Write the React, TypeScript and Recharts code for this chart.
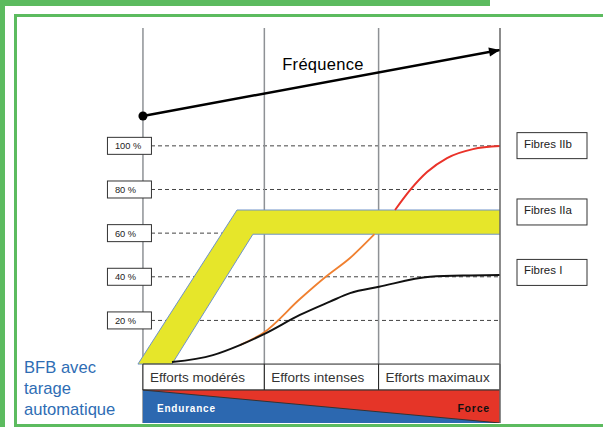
import React from 'react'
import {
  ComposedChart,
  XAxis,
  YAxis,
  CartesianGrid,
  Line,
  Area,
  ReferenceLine,
  ReferenceArea,
  ReferenceDot,
  Label,
} from 'recharts'

// x: effort scale (0 = start of "modérés", 300 = end of "maximaux")
// y: % of recruitment (0..100), negative values are the label row + band below
const zoneBounds = [0, 102, 198, 300]
const zoneLabels = ['Efforts modérés', 'Efforts intenses', 'Efforts maximaux']
const pctTicks = [20, 40, 60, 80, 100]
const X_DOMAIN = [-5, 300]
const Y_DOMAIN = [-27, 154]

const fibreI = [
  { x: 24.4, v: 0.9 },
  { x: 58.8, v: 4.1 },
  { x: 81.5, v: 8.7 },
  { x: 101.7, v: 13.7 },
  { x: 131.9, v: 22.5 },
  { x: 157.1, v: 28.6 },
  { x: 174, v: 32.5 },
  { x: 198.3, v: 35.4 },
  { x: 241.2, v: 40 },
  { x: 274.8, v: 40.6 },
  { x: 300, v: 40.8 },
]

// orange part, stops at the lower edge of the yellow band
const fibreIIa = [
  { x: 81.5, v: 8.7 },
  { x: 101.7, v: 14.5 },
  { x: 131.9, v: 29.8 },
  { x: 153.6, v: 40 },
  { x: 174, v: 48.6 },
  { x: 194.5, v: 59.5 },
]

// red part, starts at the upper edge of the yellow band
const fibreIIb = [
  { x: 211.8, v: 70.6 },
  { x: 224.4, v: 79.7 },
  { x: 238.7, v: 88 },
  { x: 255.5, v: 94.4 },
  { x: 277.3, v: 98.5 },
  { x: 300, v: 99.9 },
]

// yellow band (BFB), [low, high]
const bfbBand = [
  { x: -4.2, r: [0, 0] },
  { x: 24.4, r: [0, 24.3] },
  { x: 79, r: [47.8, 70.6] },
  { x: 92.4, r: [59.5, 70.6] },
  { x: 300, r: [59.5, 70.6] },
]

const frequence = [
  { x: 0, f: 113.7 },
  { x: 300, f: 143.9 },
]

const forceBand = [
  { x: 0, r: [-11.9, -11.9] },
  { x: 300, r: [-27, -11.9] },
]

const fibreLabels = [
  { name: 'Fibres IIb', v: 100.1 },
  { name: 'Fibres IIa', v: 69.7 },
  { name: 'Fibres I', v: 42 },
]

const FONT = '"Liberation Sans", Arial, sans-serif'
const GREEN = '#5cbb5f'

const scaleOr = (axis: any, v: number, fallback: () => number) => {
  const s = axis && axis.scale
  if (typeof s === 'function') {
    const r = s(v)
    if (typeof r === 'number' && !isNaN(r)) return r
  }
  return fallback()
}

const hLines = ({ yAxis, offset }: any) =>
  pctTicks.map((t) =>
    scaleOr(yAxis, t, () => offset.top + (offset.height * (Y_DOMAIN[1] - t)) / (Y_DOMAIN[1] - Y_DOMAIN[0])),
  )

const vLines = ({ xAxis, offset }: any) =>
  zoneBounds
    .slice(0, 3)
    .map((b) =>
      scaleOr(xAxis, b, () => offset.left + (offset.width * (b - X_DOMAIN[0])) / (X_DOMAIN[1] - X_DOMAIN[0])),
    )

const pctBox = (value: number) => (props: any) => {
  const { cx, cy } = props
  return (
    <g>
      <rect x={cx - 35.5} y={cy - 8.5} width={44} height={17} fill="#fff" stroke="#333" strokeWidth={1} />
      <text x={cx - 28} y={cy + 0.5} fontSize={9.3} fontFamily={FONT} fill="#222" dominantBaseline="central">
        {value} %
      </text>
    </g>
  )
}

function FreqDot(props: any) {
  const { cx, cy, index, points } = props
  if (cx == null || cy == null) return null
  if (index === 0) return <circle key="d0" cx={cx} cy={cy} r={4.5} fill="#000" />
  let ang = Math.atan2(-67, 357)
  if (points && points.length > 1) {
    const a = points[0]
    const b = points[points.length - 1]
    ang = Math.atan2(b.y - a.y, b.x - a.x)
  }
  const len = 11
  const hw = 4.5
  const bx = cx - len * Math.cos(ang)
  const by = cy - len * Math.sin(ang)
  const nx = -Math.sin(ang)
  const ny = Math.cos(ang)
  const pts = `${cx},${cy} ${bx + nx * hw},${by + ny * hw} ${bx - nx * hw},${by - ny * hw}`
  return <polygon key="d1" points={pts} fill="#000" />
}

const fibreBox = (name: string) => (props: any) => {
  const { cx, cy } = props
  return (
    <g>
      <rect x={cx + 17} y={cy - 13} width={70} height={26} fill="#fff" stroke="#333" strokeWidth={1} />
      <text x={cx + 24} y={cy - 2} fontSize={11.5} fontFamily={FONT} fill="#222" dominantBaseline="central">
        {name}
      </text>
    </g>
  )
}

export default function App() {
  return (
    <div style={{ position: 'relative', width: 603, height: 427, background: '#fff', overflow: 'hidden' }}>
      <style>{'body{margin:0}'}</style>
      <div style={{ position: 'absolute', left: 0, top: 0, width: 490, height: 6, background: GREEN }} />
      <div style={{ position: 'absolute', left: 0, top: 0, width: 5, height: 427, background: GREEN }} />
      <div
        style={{
          position: 'absolute',
          left: 14,
          top: 14,
          width: 620,
          height: 413,
          boxSizing: 'border-box',
          border: `3px solid ${GREEN}`,
        }}
      />
      <div style={{ position: 'absolute', left: 0, top: 0 }}>
        <ComposedChart width={603} height={427} margin={{ top: 28, right: 103, bottom: 4, left: 137 }}>
          <XAxis type="number" dataKey="x" domain={X_DOMAIN} hide allowDataOverflow />
          <YAxis type="number" domain={Y_DOMAIN} hide allowDataOverflow />
          <CartesianGrid
            vertical={false}
            stroke="#444"
            strokeDasharray="4 3"
            horizontalCoordinatesGenerator={hLines}
          />
          <CartesianGrid
            horizontal={false}
            stroke="#8e9195"
            strokeWidth={1.5}
            verticalCoordinatesGenerator={vLines}
          />
          <Line
            data={fibreIIa}
            dataKey="v"
            type="monotone"
            stroke="#f08030"
            strokeWidth={1.8}
            dot={false}
            isAnimationActive={false}
          />
          <Line
            data={fibreIIb}
            dataKey="v"
            type="monotone"
            stroke="#ea3229"
            strokeWidth={2}
            dot={false}
            isAnimationActive={false}
          />
          <Area
            data={bfbBand}
            dataKey="r"
            type="linear"
            fill="#e6e62a"
            fillOpacity={1}
            stroke="#6f93c9"
            strokeWidth={1}
            isAnimationActive={false}
          />
          <Line
            data={fibreI}
            dataKey="v"
            type="monotone"
            stroke="#111"
            strokeWidth={2}
            dot={false}
            isAnimationActive={false}
          />
          <Line
            data={frequence}
            dataKey="f"
            type="linear"
            stroke="#000"
            strokeWidth={2.5}
            dot={<FreqDot />}
            isAnimationActive={false}
          />
          <ReferenceLine
            segment={[
              { x: 300, y: -27 },
              { x: 300, y: 154 },
            ]}
            stroke="#666"
            strokeWidth={1.5}
          />
          {pctTicks.map((t) => (
            <ReferenceDot key={t} x={0} y={t} r={0} shape={pctBox(t)} />
          ))}
          <ReferenceDot
            x={151.3}
            y={137.5}
            r={0}
            shape={(p: any) => (
              <text
                x={p.cx}
                y={p.cy}
                textAnchor="middle"
                dominantBaseline="central"
                fontSize={16.5}
                fontFamily={FONT}
                fill="#000"
                letterSpacing={0.3}
              >
                Fréquence
              </text>
            )}
          />
          {zoneLabels.map((l, i) => (
            <ReferenceArea
              key={l}
              x1={zoneBounds[i]}
              x2={zoneBounds[i + 1]}
              y1={-11.9}
              y2={0}
              fill="#fff"
              fillOpacity={1}
              stroke="#222"
              strokeWidth={1}
            >
              <Label value={l} position="insideLeft" offset={7} fill="#333" fontSize={13.5} fontFamily={FONT} />
            </ReferenceArea>
          ))}
          <ReferenceArea x1={0} x2={300} y1={-27} y2={-11.9} fill="#2c68b0" fillOpacity={1} stroke="none" />
          <Area
            data={forceBand}
            dataKey="r"
            type="linear"
            fill="#e53528"
            fillOpacity={1}
            stroke="#333"
            strokeWidth={1}
            isAnimationActive={false}
          />
          <ReferenceArea x1={0} x2={300} y1={-27} y2={-11.9} fill="none" fillOpacity={0} stroke="none">
            <Label
              value="Endurance"
              position="insideLeft"
              offset={14}
              dy={2}
              fill="#fff"
              fontSize={10}
              fontWeight="bold"
              fontFamily={FONT}
              letterSpacing={0.8}
            />
            <Label
              value="Force"
              position="insideRight"
              offset={10}
              dy={2}
              fill="#111"
              fontSize={10.5}
              fontWeight="bold"
              fontFamily={FONT}
              letterSpacing={0.8}
            />
          </ReferenceArea>
          {fibreLabels.map((f) => (
            <ReferenceDot key={f.name} x={300} y={f.v} r={0} shape={fibreBox(f.name)} />
          ))}
        </ComposedChart>
      </div>
      <div
        style={{
          position: 'absolute',
          left: 24,
          top: 357,
          fontFamily: FONT,
          fontSize: 16.6,
          lineHeight: '21px',
          color: '#2e6db4',
        }}
      >
        BFB avec
        <br />
        tarage
        <br />
        automatique
      </div>
    </div>
  )
}
